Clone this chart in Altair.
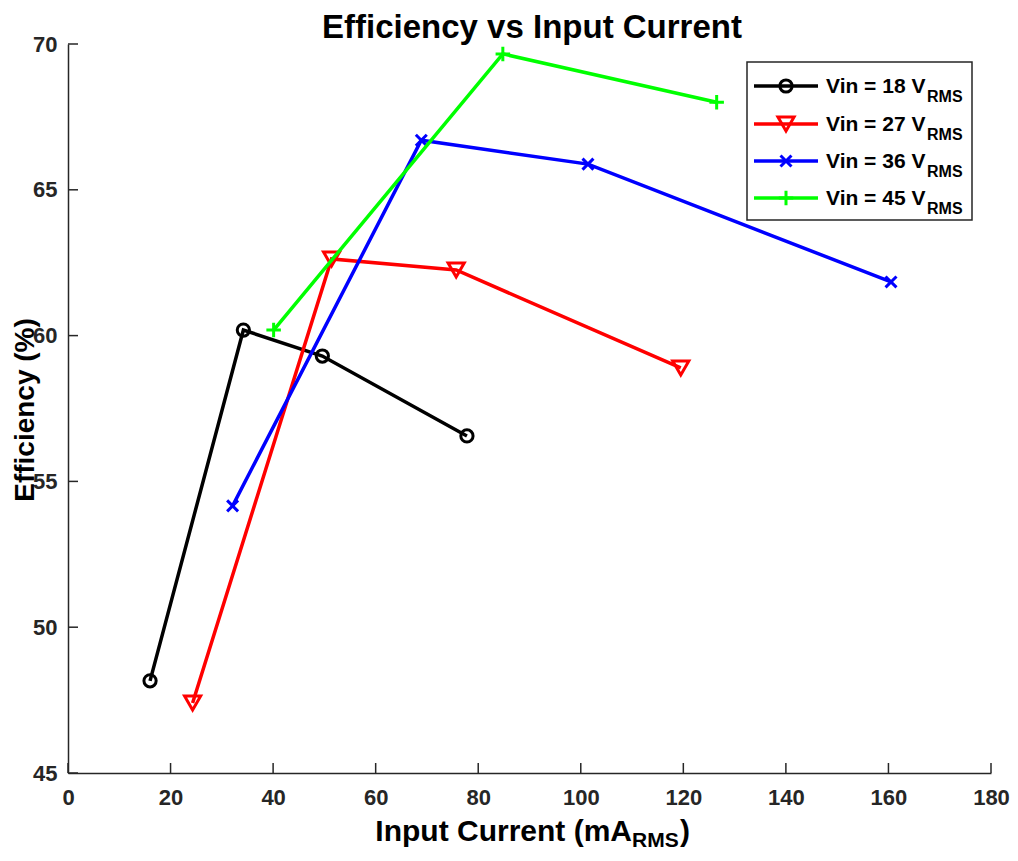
import altair as alt
import pandas as pd

# ---- data ----
series_names = ["Vin = 18 V", "Vin = 27 V", "Vin = 36 V", "Vin = 45 V"]
x18 = [16.0, 34.2, 49.6, 77.8]
y18 = [48.16, 60.19, 59.30, 56.56]
x27 = [24.3, 51.4, 75.7, 119.5]
y27 = [47.40, 62.63, 62.25, 58.89]
x36 = [32.1, 68.9, 101.4, 160.5]
y36 = [54.16, 66.70, 65.88, 61.84]
x45 = [40.1, 84.8, 126.5]
y45 = [60.19, 69.66, 68.00]
x_ticks = [0, 20, 40, 60, 80, 100, 120, 140, 160, 180]
y_ticks = [45, 50, 55, 60, 65, 70]

colors = ["#000000", "#FF0000", "#0000FF", "#00FF00"]
shapes = ["circle", "triangle-down", "M-1,-1L1,1M-1,1L1,-1", "M-1,0L1,0M0,-1L0,1"]
sizes = [150, 260, 120, 210]

FONT = "Liberation Sans"
AX = "#262626"

xs_all = [x18, x27, x36, x45]
ys_all = [y18, y27, y36, y45]

W, H = 923, 729
xscale = alt.Scale(domain=[0, 180], nice=False, zero=False)
yscale = alt.Scale(domain=[45, 70], nice=False, zero=False)

xaxis = alt.Axis(values=x_ticks, title=None, grid=False, tickSize=0, labelPadding=14,
                 labelFlush=False, format="d")
yaxis = alt.Axis(values=y_ticks, title=None, grid=False, tickSize=0, labelPadding=11,
                 labelFlush=False, format="d")

layers = []
for i in range(4):
    df = pd.DataFrame({"x": xs_all[i], "y": ys_all[i]})
    base = alt.Chart(df).encode(
        x=alt.X("x:Q", scale=xscale, axis=xaxis),
        y=alt.Y("y:Q", scale=yscale, axis=yaxis),
    )
    layers.append(base.mark_line(color=colors[i], strokeWidth=3.5))
    layers.append(base.mark_point(color=colors[i], shape=shapes[i], size=sizes[i],
                                  filled=False, strokeWidth=3, opacity=1))

# inward ticks
xt = pd.DataFrame({"x": x_ticks, "y": [45] * len(x_ticks), "y2": [45 + 10 / (H / 25)] * len(x_ticks)})
yt = pd.DataFrame({"y": y_ticks, "x": [0] * len(y_ticks), "x2": [10 / (W / 180)] * len(y_ticks)})
layers.append(alt.Chart(xt).mark_rule(color=AX, strokeWidth=1.5).encode(
    x=alt.X("x:Q", scale=xscale, axis=xaxis), y=alt.Y("y:Q", scale=yscale, axis=yaxis), y2="y2:Q"))
layers.append(alt.Chart(yt).mark_rule(color=AX, strokeWidth=1.5).encode(
    x=alt.X("x:Q", scale=xscale, axis=xaxis), x2="x2:Q", y=alt.Y("y:Q", scale=yscale, axis=yaxis)))

one = pd.DataFrame({"a": [0]})

def txt(text, x, y, size, align="left", angle=0, baseline="alphabetic"):
    kw = dict(text=text, font=FONT, fontWeight="bold", fontSize=size, align=align,
              baseline=baseline, color="#000000")
    if angle:
        kw["angle"] = angle
    return alt.Chart(one).mark_text(**kw).encode(x=alt.value(x), y=alt.value(y))

# title and axis titles
layers.append(txt("Efficiency vs Input Current", 464, -6, 33, align="center"))
layers.append(txt("Input Current (mA", 564, 797, 30, align="right"))
layers.append(txt("RMS", 564, 803, 21))
layers.append(txt(")", 612, 797, 30))
layers.append(txt("Efficiency (%)", -34, 366, 28, align="center", angle=270))

# legend
layers.append(alt.Chart(one).mark_rect(fill="white", stroke=AX, strokeWidth=1.5).encode(
    x=alt.value(679), x2=alt.value(904), y=alt.value(18), y2=alt.value(176)))
rows = [42, 80, 117, 154]
for i in range(4):
    r = rows[i]
    layers.append(alt.Chart(one).mark_rule(color=colors[i], strokeWidth=3.5).encode(
        x=alt.value(686), x2=alt.value(750), y=alt.value(r)))
    layers.append(alt.Chart(one).mark_point(color=colors[i], shape=shapes[i], size=sizes[i],
                                            filled=False, strokeWidth=3, opacity=1).encode(
        x=alt.value(718), y=alt.value(r)))
    layers.append(txt(series_names[i], 758, r + 7, 21))
    layers.append(txt("RMS", 859, r + 16, 16))

chart = alt.layer(*layers).properties(
    width=W, height=H,
    autosize=alt.AutoSizeParams(type="none"),
    padding={"left": 60, "top": 36, "right": 19, "bottom": 80},
).configure_view(stroke=None).configure_axis(
    labelFont=FONT, labelFontSize=22, labelFontWeight="bold", labelColor=AX,
    domainColor=AX, domainWidth=1.5, grid=False,
)

chart.save("out.html", embed_options={"renderer": "svg", "actions": False})
